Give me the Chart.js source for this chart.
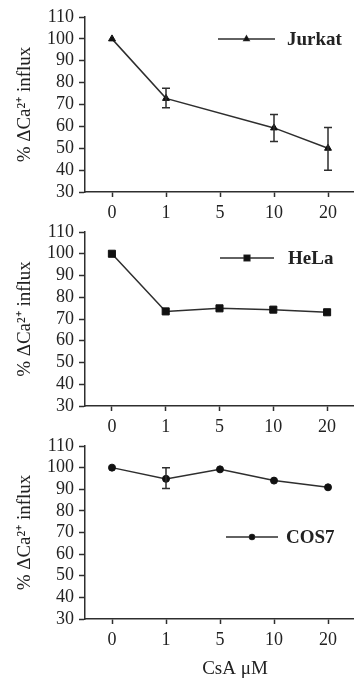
<!DOCTYPE html>
<html>
<head>
<meta charset="utf-8">
<script src="https://cdn.jsdelivr.net/npm/chart.js@4.4.0/dist/chart.umd.min.js"></script>
<style>
    html, body { margin: 0; padding: 0; background: #fff; overflow: hidden; }
    .panel { position: absolute; left: 0; width: 360px; }
</style>
</head>
<body>
<div class="panel" style="top:0;height:225px"><canvas id="jurkatChart"></canvas></div>
<div class="panel" style="top:215px;height:225px"><canvas id="helaChart"></canvas></div>
<div class="panel" style="top:430px;height:253px"><canvas id="cos7Chart"></canvas></div>
<script>
// CsA dozları (µM)
const doseLabels = ['0', '1', '5', '10', '20'];

// Jurkat (5 µM ölçümü yok)
const jurkatValues = [100, 72.8, null, 59.3, 50];
const jurkatErrLow = [null, 68.5, null, 53.1, 40];
const jurkatErrHigh = [null, 77.4, null, 65.4, 59.5];

// HeLa
const helaValues = [100, 73.5, 74.9, 74.3, 73.1];

// COS7
const cos7Values = [100, 94.8, 99.2, 94.0, 90.9];
const cos7ErrLow = [null, 90.3, null, null, null];
const cos7ErrHigh = [null, 100, null, null, null];

const yTitle = '% ΔCa²⁺ influx';
const xTitle = 'CsA μM';

const ink = '#2e2e2e';
const serif = "'Liberation Serif', 'Times New Roman', serif";

// Hata çubukları
const errorBarPlugin = {
    id: 'errorBars',
    afterDatasetsDraw(chart, args, opts) {
        if (!opts.low) return;
        const ctx = chart.ctx;
        const xs = chart.scales.x, ys = chart.scales.y;
        ctx.save();
        ctx.strokeStyle = ink;
        ctx.lineWidth = 1.5;
        opts.low.forEach((lo, i) => {
            const hi = opts.high[i];
            if (lo == null || hi == null) return;
            const px = xs.getPixelForValue(i);
            const yLo = ys.getPixelForValue(lo);
            const yHi = ys.getPixelForValue(hi);
            ctx.beginPath();
            ctx.moveTo(px, yLo); ctx.lineTo(px, yHi);
            ctx.moveTo(px - 4, yLo); ctx.lineTo(px + 4, yLo);
            ctx.moveTo(px - 4, yHi); ctx.lineTo(px + 4, yHi);
            ctx.stroke();
        });
        ctx.restore();
    }
};

// Çizgi + işaret + etiket şeklinde lejant
const lineLegendPlugin = {
    id: 'lineLegend',
    afterDraw(chart, args, opts) {
        if (!opts.text) return;
        const ctx = chart.ctx;
        const ds = chart.data.datasets[0];
        ctx.save();
        ctx.strokeStyle = ink;
        ctx.lineWidth = 1.5;
        ctx.beginPath();
        ctx.moveTo(opts.x1, opts.y);
        ctx.lineTo(opts.x2, opts.y);
        ctx.stroke();
        ctx.fillStyle = '#111';
        Chart.helpers.drawPoint(ctx, {
            pointStyle: ds.pointStyle,
            radius: ds.pointRadius - 1,
            rotation: 0,
            borderWidth: 1
        }, (opts.x1 + opts.x2) / 2, opts.y);
        ctx.fill();
        ctx.font = 'bold 19px ' + serif;
        ctx.fillStyle = '#222';
        ctx.textBaseline = 'middle';
        ctx.textAlign = 'left';
        ctx.fillText(opts.text, opts.tx, opts.y + 1);
        ctx.restore();
    }
};

// Alt eksen başlığı (eksen ortasından biraz sağda)
const xTitlePlugin = {
    id: 'xTitle',
    afterDraw(chart, args, opts) {
        if (!opts.text) return;
        const ctx = chart.ctx;
        ctx.save();
        ctx.font = '19px ' + serif;
        ctx.fillStyle = '#222';
        ctx.textAlign = 'center';
        ctx.textBaseline = 'middle';
        ctx.fillText(opts.text, opts.x, opts.y);
        ctx.restore();
    }
};

function buildPanel(canvasId, cfg) {
    const ctx = document.getElementById(canvasId).getContext('2d');
    return new Chart(ctx, {
        type: 'line',
        data: {
            labels: doseLabels,
            datasets: [{
                label: cfg.name,
                data: cfg.values,
                borderColor: ink,
                borderWidth: 1.5,
                tension: 0,
                spanGaps: true,
                pointStyle: cfg.pointStyle,
                pointRadius: cfg.pointRadius,
                pointBackgroundColor: '#111',
                pointBorderColor: '#111',
                pointBorderWidth: 1
            }]
        },
        options: {
            responsive: true,
            maintainAspectRatio: false,
            animation: false,
            layout: {
                padding: { top: cfg.padTop, left: 0, right: 0, bottom: 0 }
            },
            plugins: {
                legend: { display: false },
                tooltip: { enabled: false },
                errorBars: { low: cfg.errLow, high: cfg.errHigh },
                lineLegend: cfg.legend,
                xTitle: cfg.xTitle || {}
            },
            scales: {
                x: {
                    offset: true,
                    afterFit: s => { s.height = cfg.xHeight; },
                    grid: {
                        offset: false,
                        drawOnChartArea: false,
                        tickLength: 5,
                        tickWidth: 1.5,
                        color: ink
                    },
                    border: { display: true, color: ink, width: 1.5 },
                    ticks: {
                        color: '#222',
                        padding: 5,
                        font: { family: serif, size: 18 }
                    }
                },
                y: {
                    min: 30,
                    max: 110,
                    afterFit: s => { s.width = 85; },
                    grid: {
                        drawOnChartArea: false,
                        tickLength: 6,
                        tickWidth: 1.5,
                        color: ink
                    },
                    border: { display: true, color: ink, width: 1.5 },
                    ticks: {
                        stepSize: 10,
                        autoSkip: false,
                        color: '#222',
                        padding: 5,
                        font: { family: serif, size: 18 }
                    },
                    title: {
                        display: true,
                        text: yTitle,
                        color: '#222',
                        padding: { top: 14, bottom: 0 },
                        font: { family: serif, size: 19 }
                    }
                }
            }
        },
        plugins: [errorBarPlugin, lineLegendPlugin, xTitlePlugin]
    });
}

document.addEventListener('DOMContentLoaded', () => {
    buildPanel('jurkatChart', {
        name: 'Jurkat',
        values: jurkatValues,
        errLow: jurkatErrLow,
        errHigh: jurkatErrHigh,
        pointStyle: 'triangle',
        pointRadius: 4,
        padTop: 17,
        xHeight: 33,
        legend: { text: 'Jurkat', x1: 218, x2: 275, y: 39, tx: 287 }
    });
    buildPanel('helaChart', {
        name: 'HeLa',
        values: helaValues,
        errLow: null,
        errHigh: null,
        pointStyle: 'rect',
        pointRadius: 5,
        padTop: 17,
        xHeight: 34,
        legend: { text: 'HeLa', x1: 220, x2: 274, y: 43, tx: 288 }
    });
    buildPanel('cos7Chart', {
        name: 'COS7',
        values: cos7Values,
        errLow: cos7ErrLow,
        errHigh: cos7ErrHigh,
        pointStyle: 'circle',
        pointRadius: 3.5,
        padTop: 16,
        xHeight: 64,
        legend: { text: 'COS7', x1: 226, x2: 278, y: 107, tx: 286 },
        xTitle: { text: xTitle, x: 235, y: 239 }
    });
});
</script>
</body>
</html>
